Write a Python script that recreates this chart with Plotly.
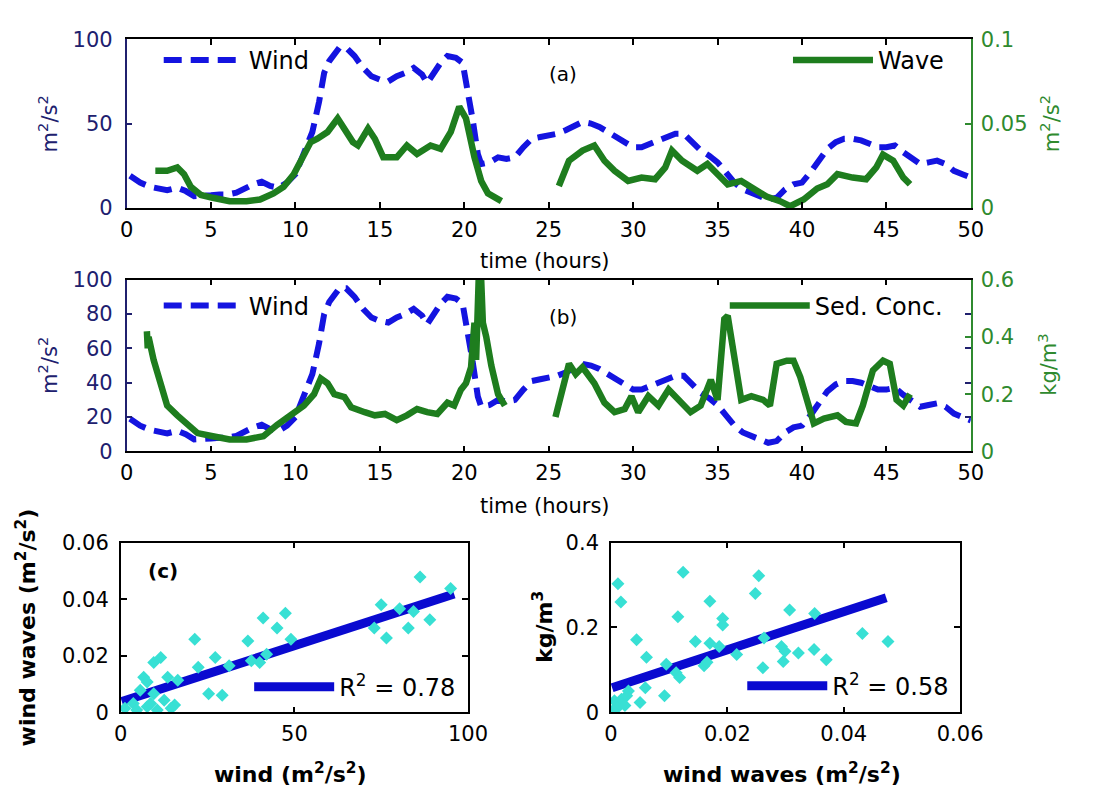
import plotly.graph_objects as go

# ---------------- data ----------------
wind_t = [0.2, 0.8, 1.4, 2.0, 2.4, 3.0, 3.5, 4.0, 4.5, 5.0, 5.5, 6.0, 6.5, 7.0, 7.5, 8.0, 8.5, 9.0, 9.5, 10.0,
          10.5, 11.0, 11.4, 11.7, 12.0, 12.6, 13.0, 13.5, 14.0, 14.5, 15.0, 15.5, 16.0, 16.5, 17.0, 17.5, 17.8,
          18.2, 18.6, 19.0, 19.5, 19.9, 20.2, 20.5, 20.8, 21.0, 21.5, 22.0, 22.5, 23.0, 23.5, 24.0, 24.5, 25.0,
          25.5, 26.0, 26.5, 27.0, 27.5, 28.0, 28.5, 29.0, 29.5, 30.0, 30.5, 31.0, 31.5, 32.0, 32.5, 33.0, 33.5,
          34.0, 34.5, 35.0, 35.5, 36.0, 36.5, 37.0, 37.5, 38.0, 38.5, 39.0, 39.5, 40.0, 40.5, 41.0, 41.5, 42.0,
          42.5, 43.0, 43.5, 44.0, 44.5, 45.0, 45.5, 46.0, 46.5, 47.0, 47.5, 48.0, 48.5, 49.0, 49.5, 50.0]
wind_v = [19, 15, 12.5, 11, 10.5, 12, 10, 7, 7, 7.5, 8, 8, 9, 12, 14, 15.5, 13, 12, 15, 20,
          32, 45, 63, 80, 87, 95, 95, 90, 83, 78, 76, 75, 78, 80, 83, 79, 74,
          80, 86, 90, 89, 86, 70, 52, 32, 26, 27, 30, 29, 30, 36, 41, 42, 43,
          44, 46, 49, 51, 50, 48, 45, 42, 40, 36, 36, 38, 40, 42, 44, 44, 39,
          34, 31, 27, 21, 15, 11, 9, 7, 5, 6, 11, 14, 15, 21, 28, 35, 39,
          41, 41, 40, 38, 36, 36, 37, 33, 30, 26, 27, 28, 26, 22, 20, 18]

wave_t = [1.7, 2.4, 3.0, 3.4, 3.8, 4.4, 5.1, 6.1, 7.1, 7.9, 8.7, 9.3, 9.9, 10.5, 10.9, 11.3, 11.9, 12.5,
          12.9, 13.4, 13.7, 14.3, 14.7, 15.2, 16.0, 16.6, 17.2, 18.0, 18.6, 19.2, 19.7, 20.1, 20.6, 21.0,
          21.4, 22.0, 22.2, None,
          25.6, 26.2, 27.0, 27.7, 28.3, 28.9, 29.7, 30.5, 31.3, 31.9, 32.3, 32.9, 33.8, 34.4, 35.0, 35.6,
          36.4, 37.0, 37.9, 38.7, 39.3, 40.1, 40.9, 41.5, 42.1, 43.0, 43.8, 44.4, 44.8, 45.4, 46.0, 46.4]
wave_v = [0.022, 0.022, 0.024, 0.020, 0.0125, 0.0077, 0.006, 0.004, 0.004, 0.005, 0.0086, 0.0125, 0.020,
          0.0316, 0.039, 0.041, 0.045, 0.053, 0.047, 0.039, 0.037, 0.047, 0.041, 0.030, 0.030, 0.037, 0.032,
          0.037, 0.035, 0.045, 0.060, 0.053, 0.030, 0.016, 0.0086, 0.005, 0.004, None,
          0.013, 0.028, 0.034, 0.037, 0.028, 0.022, 0.016, 0.018, 0.017, 0.024, 0.034, 0.028, 0.022, 0.026,
          0.020, 0.014, 0.016, 0.0125, 0.0067, 0.004, 0.001, 0.005, 0.0115, 0.014, 0.020, 0.018, 0.017,
          0.024, 0.0316, 0.028, 0.018, 0.014]

sed_t = [1.2, 1.25, 1.3, 1.6, 2.0, 2.4, 3.0, 3.6, 4.2, 5.1, 6.1, 7.1, 8.1, 8.9, 9.7, 10.5, 11.1, 11.5,
         11.9, 12.3, 12.9, 13.3, 14.1, 14.7, 15.3, 16.0, 16.6, 17.2, 17.8, 18.4, 19.0, 19.4, 19.8, 20.1,
         20.4, 20.6, 20.7, 20.85, 21.0, 21.1, 21.3, 21.6, 22.0, 22.4, None,
         25.4, 25.8, 26.2, 26.6, 27.0, 27.7, 28.3, 28.9, 29.5, 29.9, 30.3, 30.9, 31.5, 32.1, 32.8, 33.4,
         34.0, 34.6, 35.0, 35.4, 35.6, 36.0, 36.4, 37.0, 37.7, 38.1, 38.5, 39.1, 39.5, 39.9, 40.3, 40.7,
         41.3, 42.1, 42.6, 43.2, 43.6, 44.2, 44.8, 45.2, 45.6, 46.0, 46.4]
sed_v = [0.42, 0.36, 0.40, 0.32, 0.24, 0.16, 0.126, 0.092, 0.064, 0.053, 0.042, 0.042, 0.053, 0.092,
         0.126, 0.16, 0.20, 0.255, 0.238, 0.20, 0.19, 0.154, 0.137, 0.126, 0.131, 0.109, 0.126, 0.148,
         0.137, 0.131, 0.17, 0.16, 0.216, 0.238, 0.294, 0.45, 0.32, 0.60, 0.60, 0.45, 0.40, 0.30, 0.20,
         0.16, None,
         0.12, 0.216, 0.306, 0.27, 0.294, 0.238, 0.17, 0.137, 0.148, 0.193, 0.137, 0.193, 0.16, 0.216,
         0.17, 0.137, 0.16, 0.25, 0.18, 0.463, 0.474, 0.317, 0.18, 0.193, 0.18, 0.16, 0.306, 0.317,
         0.317, 0.26, 0.17, 0.098, 0.115, 0.126, 0.103, 0.098, 0.16, 0.283, 0.317, 0.306, 0.18, 0.16, 0.20]

# scatter (c) left: wind vs wind waves
sc1_x = [86.2, 95, 75, 80.3, 84.3, 89, 73, 76.5, 82.8, 47.4, 41, 45, 36.6, 49, 21.3, 27.2, 22.3, 31.2,
         40, 25.3, 29.2, 11.5, 9.5, 6.6, 7.6, 13.5, 16.4, 5.6, 9.5, 12.5, 15.5, 3.6, 1.2, 7.6, 10.5,
         14.5, 8.6, 4.6, 37.6, 42]
sc1_y = [0.0478, 0.0438, 0.038, 0.0366, 0.0356, 0.0327, 0.0298, 0.0263, 0.0298, 0.035, 0.0333, 0.0298,
         0.0252, 0.0258, 0.0258, 0.0194, 0.0159, 0.0165, 0.0176, 0.0066, 0.006, 0.0194, 0.0176, 0.0124,
         0.0107, 0.0124, 0.0113, 0.0078, 0.0066, 0.0043, 0.0026, 0.0031, 0.0014, 0.002, 0.0008, 0.0014,
         0.0031, 0.0008, 0.0182, 0.0205]
fit1_x = [0.3, 96]
fit1_y = [0.0038, 0.0418]
r2_1 = "R<sup>2</sup> = 0.78"

# scatter right: wind waves vs sediment concentration
sc2_x = [0.0012, 0.0017, 0.0124, 0.0115, 0.017, 0.0192, 0.0192, 0.0254, 0.0248, 0.0307, 0.035, 0.0044,
         0.0061, 0.0145, 0.017, 0.0186, 0.0263, 0.0293, 0.0299, 0.0322, 0.0349, 0.037, 0.0296, 0.0261,
         0.0216, 0.0432, 0.0476, 0.0095, 0.0112, 0.0118, 0.016, 0.0165, 0.0092, 0.005, 0.003, 0.0059,
         0.0006, 0.0012, 0.0018, 0.0024, 0.0003, 0.0027]
sc2_y = [0.303, 0.260, 0.330, 0.225, 0.262, 0.221, 0.206, 0.322, 0.280, 0.241, 0.233, 0.171, 0.130,
         0.167, 0.163, 0.155, 0.175, 0.155, 0.144, 0.140, 0.148, 0.124, 0.120, 0.105, 0.136, 0.186,
         0.167, 0.113, 0.093, 0.082, 0.110, 0.118, 0.039, 0.023, 0.050, 0.058, 0.027, 0.012, 0.031,
         0.016, 0.004, 0.039]
fit2_x = [0.0002, 0.0473]
fit2_y = [0.058, 0.270]
r2_2 = "R<sup>2</sup> = 0.58"

time_ticks = [0, 5, 10, 15, 20, 25, 30, 35, 40, 45, 50]

# ---------------- style ----------------
W, H = 1094, 799
FONT = "DejaVu Sans"
BLUE = "#1414e0"
NAVY = "#20206e"
GREEN = "#1e7d1e"
GREEN_AX = "#2f8a2f"
CYAN = "#38e0d4"
FITBLUE = "#0a0ad0"
TF = 21


def px(x):
    return x / W


def py(y):
    return 1 - y / H


fig = go.Figure()

# panel (a)
fig.add_trace(go.Scatter(x=wind_t, y=wind_v, mode="lines", name="Wind",
                         line=dict(color=BLUE, width=6, dash="18px,9px"),
                         xaxis="x", yaxis="y", legend="legend"))
fig.add_trace(go.Scatter(x=wave_t, y=wave_v, mode="lines", name="Wave",
                         line=dict(color=GREEN, width=6.5),
                         xaxis="x", yaxis="y2", legend="legend2"))
# panel (b)
fig.add_trace(go.Scatter(x=wind_t, y=wind_v, mode="lines", name="Wind",
                         line=dict(color=BLUE, width=6, dash="18px,9px"),
                         xaxis="x2", yaxis="y3", legend="legend3"))
fig.add_trace(go.Scatter(x=sed_t, y=sed_v, mode="lines", name="Sed. Conc.",
                         line=dict(color=GREEN, width=6.5),
                         xaxis="x2", yaxis="y4", legend="legend4"))
# panel (c) left
fig.add_trace(go.Scatter(x=fit1_x, y=fit1_y, mode="lines", name=r2_1,
                         line=dict(color=FITBLUE, width=9),
                         xaxis="x3", yaxis="y5", legend="legend5"))
fig.add_trace(go.Scatter(x=sc1_x, y=sc1_y, mode="markers", showlegend=False,
                         marker=dict(symbol="diamond", size=10, color=CYAN),
                         xaxis="x3", yaxis="y5"))
# panel (c) right
fig.add_trace(go.Scatter(x=fit2_x, y=fit2_y, mode="lines", name=r2_2,
                         line=dict(color=FITBLUE, width=9),
                         xaxis="x4", yaxis="y6", legend="legend6"))
fig.add_trace(go.Scatter(x=sc2_x, y=sc2_y, mode="markers", showlegend=False,
                         marker=dict(symbol="diamond", size=10, color=CYAN),
                         xaxis="x4", yaxis="y6"))

common = dict(showgrid=False, zeroline=False, showline=True, ticks="inside", ticklen=6,
              tickwidth=1.5, linewidth=1.5, tickfont=dict(family=FONT, size=TF))

A_Y = (28, 202)
B_Y = (276, 453)
TS_X = (123, 991)
C_Y = (547, 722)
CL_X = (117, 474)
CR_X = (621, 980)

layout = dict(
    width=W, height=H, margin=dict(l=0, r=0, t=0, b=0),
    paper_bgcolor="white", plot_bgcolor="white",
    font=dict(family=FONT, size=TF, color="black"),
    xaxis=dict(domain=[px(TS_X[0]), px(TS_X[1])], anchor="y", range=[0, 50], tickvals=time_ticks,
               mirror="ticks", linecolor="black", color="black", ticklabelstandoff=2, **common),
    yaxis=dict(domain=[py(A_Y[1]), py(A_Y[0])], anchor="x", range=[0, 100], tickvals=[0, 50, 100],
               mirror="ticks", linecolor=NAVY, color=NAVY, ticklabelstandoff=8, **common),
    yaxis2=dict(overlaying="y", side="right", anchor="x", range=[0, 0.1], tickvals=[0, 0.05, 0.1],
                ticktext=["0", "0.05", "0.1"], linecolor=GREEN_AX, color=GREEN_AX, ticklabelstandoff=4,
                **common),
    xaxis2=dict(domain=[px(TS_X[0]), px(TS_X[1])], anchor="y3", range=[0, 50], tickvals=time_ticks,
                mirror="ticks", linecolor="black", color="black", ticklabelstandoff=2, **common),
    yaxis3=dict(domain=[py(B_Y[1]), py(B_Y[0])], anchor="x2", range=[0, 100],
                tickvals=[0, 20, 40, 60, 80, 100], mirror="ticks", linecolor=NAVY, color=NAVY,
                ticklabelstandoff=8, **common),
    yaxis4=dict(overlaying="y3", side="right", anchor="x2", range=[0, 0.6], tickvals=[0, 0.2, 0.4, 0.6],
                ticktext=["0", "0.2", "0.4", "0.6"], linecolor=GREEN_AX, color=GREEN_AX,
                ticklabelstandoff=4, **common),
    xaxis3=dict(domain=[px(CL_X[0]), px(CL_X[1])], anchor="y5", range=[0, 100], tickvals=[0, 50, 100],
                mirror="ticks", linecolor="black", color="black", ticklabelstandoff=2, **common),
    yaxis5=dict(domain=[py(C_Y[1]), py(C_Y[0])], anchor="x3", range=[0, 0.06],
                tickvals=[0, 0.02, 0.04, 0.06], ticktext=["0", "0.02", "0.04", "0.06"],
                mirror="ticks", linecolor="black", color="black", ticklabelstandoff=6, **common),
    xaxis4=dict(domain=[px(CR_X[0]), px(CR_X[1])], anchor="y6", range=[0, 0.06],
                tickvals=[0, 0.02, 0.04, 0.06], ticktext=["0", "0.02", "0.04", "0.06"],
                mirror="ticks", linecolor="black", color="black", ticklabelstandoff=2, **common),
    yaxis6=dict(domain=[py(C_Y[1]), py(C_Y[0])], anchor="x4", range=[0, 0.4], tickvals=[0, 0.2, 0.4],
                ticktext=["0", "0.2", "0.4"], mirror="ticks", linecolor="black", color="black",
                ticklabelstandoff=6, **common),
)

leg_common = dict(bgcolor="rgba(0,0,0,0)", borderwidth=0, font=dict(family=FONT, size=24, color="black"),
                  xanchor="left", yanchor="middle", itemwidth=80, tracegroupgap=0)
layout["legend"] = dict(x=px(156), y=py(50), **leg_common)
layout["legend2"] = dict(x=px(803), y=py(50), **leg_common)
layout["legend3"] = dict(x=px(156), y=py(303), **leg_common)
layout["legend4"] = dict(x=px(738), y=py(303), **leg_common)
layout["legend5"] = dict(x=px(249), y=py(696), **leg_common)
layout["legend6"] = dict(x=px(756), y=py(695), **leg_common)

fig.update_layout(**layout)

ann = []


def txt(x, y, s, size=TF, color="black", angle=0, bold=False):
    ann.append(dict(xref="paper", yref="paper", x=px(x), y=py(y), text=("<b>%s</b>" % s if bold else s),
                    showarrow=False, textangle=angle, xanchor="center", yanchor="middle",
                    font=dict(family=FONT, size=size, color=color)))


txt(42, 115, "m<sup>2</sup>/s<sup>2</sup>", color=NAVY, angle=-90)
txt(1072, 115, "m<sup>2</sup>/s<sup>2</sup>", color=GREEN_AX, angle=-90)
txt(553, 257, "time (hours)")
txt(42, 364, "m<sup>2</sup>/s<sup>2</sup>", color=NAVY, angle=-90)
txt(1070, 364, "kg/m<sup>3</sup>", color=GREEN_AX, angle=-90)
txt(553, 509, "time (hours)")
txt(572, 64, "(a)", size=20)
txt(572, 314, "(b)", size=20)
txt(160, 576, "(c)", size=20, bold=True)
txt(19, 634, "wind waves (m<sup>2</sup>/s<sup>2</sup>)", angle=-90, bold=True, size=22)
txt(292, 785, "wind (m<sup>2</sup>/s<sup>2</sup>)", bold=True, size=22)
txt(551, 634, "kg/m<sup>3</sup>", angle=-90, bold=True, size=22)
txt(797, 785, "wind waves (m<sup>2</sup>/s<sup>2</sup>)", bold=True, size=22)

fig.update_layout(annotations=ann)
fig.write_html("out.html")
